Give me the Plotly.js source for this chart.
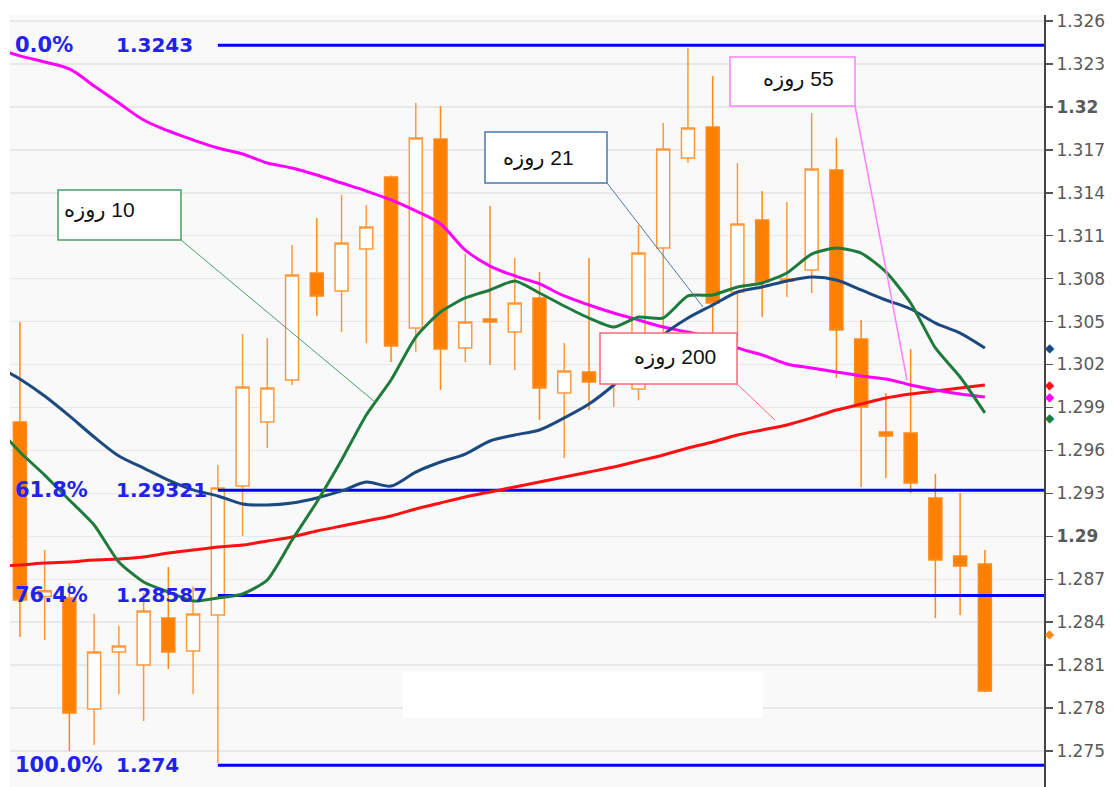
<!DOCTYPE html>
<html>
<head>
<meta charset="utf-8">
<script src="https://cdn.plot.ly/plotly-3.0.1.min.js"></script>
<style>html,body{margin:0;padding:0;background:#fff;}#chart{width:1114px;height:787px;}</style>
</head>
<body>
<div id="chart"></div>
<script>
// ---------- DATA ----------
const candleOpen  = [1.29799,1.28580,1.28569,1.27794,1.28192,1.28101,1.28429,1.28199,1.28450,1.29351,
                     1.29799,1.30092,1.30840,1.30714,1.31007,1.31510,1.30455,1.31776,1.30316,1.30518,
                     1.30427,1.30665,1.30001,1.30148,1.30100,1.30030,1.31014,1.31643,1.31859,1.30707,
                     1.31210,1.30784,1.30861,1.31559,1.30378,1.29729,1.29722,1.29268,1.28863,1.28807];
const candleHigh  = [1.30497,1.28904,1.28674,1.28457,1.28374,1.28604,1.28786,1.28650,1.29498,1.30413,
                     1.30385,1.31035,1.31224,1.31384,1.31315,1.31520,1.32027,1.32006,1.30972,1.31308,
                     1.30944,1.30847,1.30350,1.30944,1.30320,1.31175,1.31887,1.32411,1.32216,1.31608,
                     1.31412,1.31336,1.31957,1.31783,1.30511,1.30001,1.30309,1.29435,1.29303,1.28904];
const candleLow   = [1.28297,1.28276,1.27500,1.27542,1.27898,1.27710,1.28073,1.27898,1.27416,1.29002,
                     1.29617,1.30057,1.30539,1.30427,1.30350,1.30218,1.30288,1.30022,1.30218,1.30197,
                     1.30162,1.29813,1.29547,1.29882,1.29903,1.29950,1.30400,1.31608,1.30220,1.30350,
                     1.30532,1.30672,1.30700,1.30106,1.29344,1.29407,1.29303,1.28429,1.28450,1.27910];
const candleClose = [1.28555,1.28620,1.27766,1.28192,1.28234,1.28478,1.28192,1.28457,1.29337,1.30043,
                     1.30036,1.30826,1.30679,1.31049,1.31161,1.30330,1.31783,1.30309,1.30497,1.30497,
                     1.30630,1.30036,1.30155,1.30078,1.30180,1.30979,1.31706,1.31852,1.30630,1.31182,
                     1.30777,1.30798,1.31566,1.30441,1.29903,1.29701,1.29372,1.28835,1.28793,1.27920];

// moving averages: first value belongs to the day before the first visible candle
const ma10  = [1.29778,1.29589,1.29428,1.29254,1.29079,1.28821,1.28681,1.28611,1.28548,1.28569,1.28597,
               1.28695,1.28974,1.29240,1.29533,1.29848,1.30092,1.30392,1.30567,1.30665,1.30721,
               1.30784,1.30700,1.30609,1.30525,1.30462,1.30532,1.30525,1.30679,1.30686,1.30742,
               1.30770,1.30840,1.30972,1.31014,1.30979,1.30847,1.30630,1.30316,1.30113,1.29862];
const ma21  = [1.30197,1.30099,1.29980,1.29841,1.29694,1.29561,1.29477,1.29393,1.29324,1.29282,1.29226,
               1.29219,1.29233,1.29268,1.29317,1.29379,1.29351,1.29449,1.29519,1.29575,1.29666,
               1.29708,1.29743,1.29827,1.29924,1.30057,1.30218,1.30406,1.30525,1.30616,1.30707,
               1.30742,1.30784,1.30812,1.30791,1.30721,1.30651,1.30588,1.30490,1.30420,1.30316];
const ma55  = [1.32411,1.32356,1.32314,1.32265,1.32146,1.32027,1.31908,1.31832,1.31769,1.31713,1.31671,
               1.31608,1.31573,1.31524,1.31468,1.31412,1.31350,1.31273,1.31182,1.31000,1.30888,
               1.30819,1.30763,1.30679,1.30616,1.30560,1.30511,1.30462,1.30427,1.30385,1.30316,
               1.30267,1.30204,1.30176,1.30148,1.30120,1.30099,1.30057,1.30022,1.29994,1.29973];
const ma200 = [1.28793,1.28800,1.28814,1.28821,1.28835,1.28842,1.28856,1.28883,1.28904,1.28925,1.28939,
               1.28967,1.28995,1.29037,1.29072,1.29107,1.29142,1.29191,1.29233,1.29275,1.29310,
               1.29345,1.29379,1.29414,1.29449,1.29484,1.29526,1.29568,1.29617,1.29659,1.29708,
               1.29743,1.29778,1.29827,1.29882,1.29924,1.29966,1.29994,1.30015,1.30036,1.30057];
const maLabels = ['10 روزه', '21 روزه', '55 روزه', '200 روزه'];

const lastPrice = 1.2832;

// Fibonacci retracement (swing low candle -> swing high)
const fibStartCandle = 8;
const fibPercent = ['0.0%', '61.8%', '76.4%', '100.0%'];
const fibLevel   = [1.3243, 1.29321, 1.28587, 1.274];
const fibText    = ['1.3243', '1.29321', '1.28587', '1.274'];

const tickVals = [1.275,1.278,1.281,1.284,1.287,1.29,1.293,1.296,1.299,1.302,1.305,1.308,1.311,1.314,1.317,1.32,1.323,1.326];
const tickText = ['1.275','1.278','1.281','1.284','1.287','<b>1.29</b>','1.293','1.296','1.299','1.302','1.305','1.308','1.311','1.314','1.317','<b>1.32</b>','1.323','1.326'];

// ---------- STYLE / LAYOUT ----------
const N = candleOpen.length;
const candleX = candleOpen.map((_, i) => i);
const maX = ma10.map((_, i) => i - 1);

const PL = 10, PT = 15, PW = 1034, PH = 772;
const px = x => (x - PL) / PW;
const py = y => 1 - (y - PT) / PH;

const C = {green:'#1e7b3c', navy:'#1c4a80', magenta:'#ff00ff', red:'#ff1010', fib:'#0000ff', orange:'#ff8000'};

const traces = [];
traces.push({
  type:'candlestick', x:candleX, open:candleOpen, high:candleHigh, low:candleLow, close:candleClose,
  increasing:{line:{color:'#ff9a3c', width:1.5}, fillcolor:'#ffffff'},
  decreasing:{line:{color:'#ff8a1a', width:1.5}, fillcolor:C.orange},
  whiskerwidth:0, hoverinfo:'skip'
});
fibLevel.forEach(v => traces.push({
  type:'scatter', mode:'lines', x:[fibStartCandle, N + 10], y:[v, v],
  line:{color:C.fib, width:3}, hoverinfo:'skip'
}));
const maSeries = [[ma200, C.red, 0.6], [ma55, C.magenta, 1.0], [ma21, C.navy, 0.8], [ma10, C.green, 0.6]];
maSeries.forEach(([d, c, s]) => traces.push({
  type:'scatter', mode:'lines', x:maX, y:d, line:{color:c, width:3, shape:'spline', smoothing:s}, hoverinfo:'skip'
}));

// callout boxes (pixel geometry) and their leader lines
const boxes = [
  {x0:58,  y0:190, x1:181, y1:240, col:'#4a9e6a', tx:137, ty:210, lx0:181, ly0:240, lx1:375, ly1:402, lw:1},
  {x0:485, y0:132, x1:607, y1:183, col:'#4f75a8', tx:576, ty:158, lx0:607, ly0:183, lx1:703, ly1:307, lw:1},
  {x0:730, y0:57,  x1:855, y1:106, col:'#ff80ff', tx:836, ty:79,  lx0:855, ly0:106, lx1:907, ly1:380, lw:1.5},
  {x0:600, y0:333, x1:737, y1:384, col:'#ff6878', tx:718, ty:357, lx0:737, ly0:384, lx1:775, ly1:420, lw:1}
];
const shapes = [];
const annotations = [];
boxes.forEach((b, i) => {
  shapes.push({type:'line', xref:'paper', yref:'paper', x0:px(b.lx0), y0:py(b.ly0), x1:px(b.lx1), y1:py(b.ly1),
               line:{color:b.col, width:b.lw}, layer:'above'});
  shapes.push({type:'rect', xref:'paper', yref:'paper', x0:px(b.x0), y0:py(b.y0), x1:px(b.x1), y1:py(b.y1),
               fillcolor:'#ffffff', line:{color:b.col, width:1.5}, layer:'above'});
  annotations.push({xref:'paper', yref:'paper', x:px(b.tx), y:py(b.ty), xanchor:'right', yanchor:'middle',
                    showarrow:false, text:'\u202B' + maLabels[i] + '\u202C',
                    font:{family:'Liberation Sans, DejaVu Sans, sans-serif', size:21, color:'#111'}});
});
// blank patch at the bottom
shapes.push({type:'rect', xref:'paper', yref:'paper', x0:px(403), x1:px(763), y0:py(718), y1:py(672),
             fillcolor:'#ffffff', line:{width:0}, layer:'above'});

// last-value markers just right of the price axis
const markerVals = [ma21[ma21.length-1], ma200[ma200.length-1], ma55[ma55.length-1], ma10[ma10.length-1], lastPrice];
const markerCols = [C.navy, C.red, C.magenta, C.green, '#ff8c1a'];
const markerShift = [0, 0, 0, -5, 0];
markerVals.forEach((v, i) => annotations.push({
  xref:'paper', yref:'y', x:px(1050), y:v, xanchor:'center', yanchor:'middle', showarrow:false,
  text:'\u25C6', yshift:markerShift[i], font:{family:'DejaVu Sans', size:12, color:markerCols[i]}
}));

fibLevel.forEach((v, i) => {
  annotations.push({xref:'paper', yref:'y', x:px(13), y:v, xanchor:'left', yanchor:'middle', showarrow:false,
                    text:'<b>' + fibPercent[i] + '</b>',
                    font:{family:'DejaVu Sans, Verdana, sans-serif', size:21, color:'#2222ee', weight:700}});
  annotations.push({xref:'paper', yref:'y', x:px(114), y:v, xanchor:'left', yanchor:'middle', showarrow:false,
                    text:'<b>' + fibText[i] + '</b>',
                    font:{family:'DejaVu Sans, Verdana, sans-serif', size:20, color:'#2222ee', weight:700}});
});

const layout = {
  width:1114, height:787,
  margin:{l:PL, r:1114 - PL - PW, t:PT, b:0},
  paper_bgcolor:'#ffffff', plot_bgcolor:'#f9f9f9',
  showlegend:false, boxgap:0.25, hovermode:false,
  xaxis:{range:[-0.4, 41.39], showgrid:false, zeroline:false, showticklabels:false, ticks:'', showline:false,
         rangeslider:{visible:false}, fixedrange:true},
  yaxis:{side:'right', range:[1.272487, 1.326419], tickvals:tickVals, ticktext:tickText,
         ticks:'outside', ticklen:7, tickcolor:'#555', tickwidth:1.5,
         showline:true, linecolor:'#444', linewidth:2, mirror:false,
         gridcolor:'#e8e8e8', gridwidth:1.5, zeroline:false, fixedrange:true,
         tickfont:{family:'DejaVu Sans, Verdana, sans-serif', size:17, color:'#5a5a5a'}},
  shapes:shapes, annotations:annotations
};

Plotly.newPlot('chart', traces, layout, {displayModeBar:false, staticPlot:true});
</script>
</body>
</html>
